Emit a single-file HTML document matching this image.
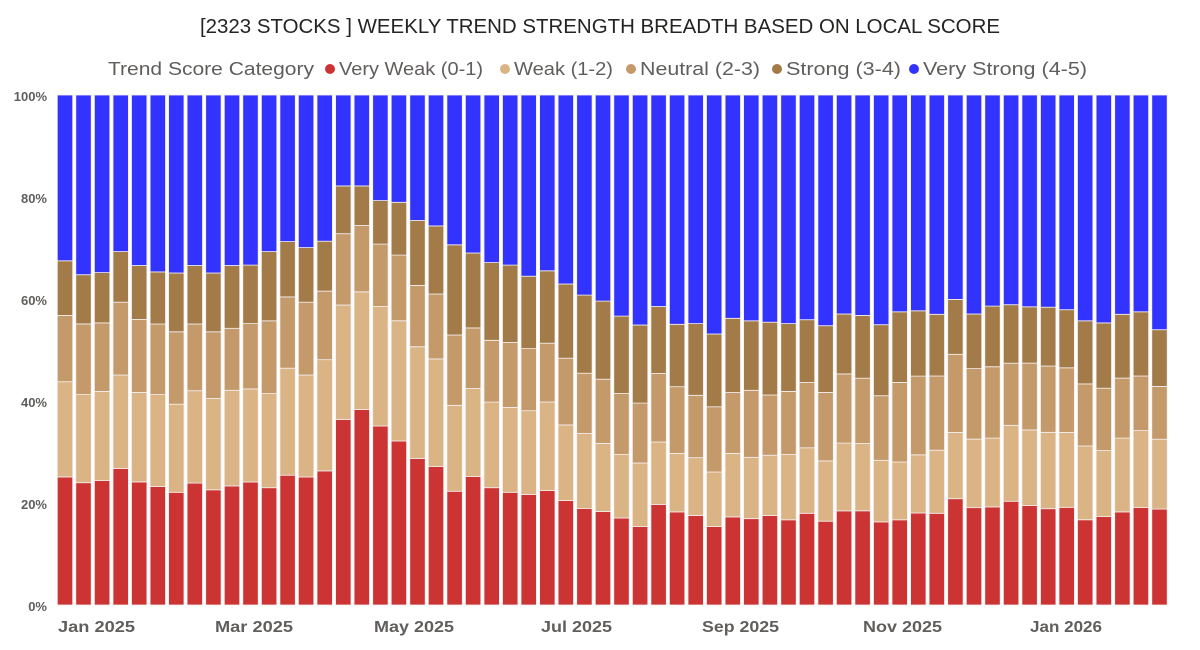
<!DOCTYPE html>
<html><head><meta charset="utf-8"><style>
html,body{margin:0;padding:0;background:#fff;}
body{width:1200px;height:645px;overflow:hidden;font-family:"Liberation Sans",sans-serif;}
</style></head><body>
<svg id="s" width="1200" height="645" xmlns="http://www.w3.org/2000/svg">
<text x="200" y="33" textLength="800" lengthAdjust="spacingAndGlyphs" font-family="Liberation Sans, sans-serif" font-size="20" fill="#252423">[2323 STOCKS ] WEEKLY TREND STRENGTH BREADTH BASED ON LOCAL SCORE</text>
<g font-family="Liberation Sans, sans-serif" font-size="18" fill="#605e5c">
<text x="108" y="75" textLength="206" lengthAdjust="spacingAndGlyphs">Trend Score Category</text>
<circle cx="330" cy="69" r="5" fill="#cc3333"/><text x="339" y="75" textLength="144" lengthAdjust="spacingAndGlyphs">Very Weak (0-1)</text>
<circle cx="505" cy="69" r="5" fill="#dbb486"/><text x="514" y="75" textLength="99" lengthAdjust="spacingAndGlyphs">Weak (1-2)</text>
<circle cx="631" cy="69" r="5" fill="#c49a6a"/><text x="640" y="75" textLength="120" lengthAdjust="spacingAndGlyphs">Neutral (2-3)</text>
<circle cx="777" cy="69" r="5" fill="#a27b48"/><text x="786" y="75" textLength="115" lengthAdjust="spacingAndGlyphs">Strong (3-4)</text>
<circle cx="914" cy="69" r="5" fill="#3333ff"/><text x="923" y="75" textLength="164" lengthAdjust="spacingAndGlyphs">Very Strong (4-5)</text>
</g>
<g font-family="Liberation Sans, sans-serif" font-size="13" font-weight="bold" fill="#605e5c" text-anchor="end">
<text x="47" y="101">100%</text><text x="47" y="203">80%</text><text x="47" y="305">60%</text>
<text x="47" y="407">40%</text><text x="47" y="509">20%</text><text x="47" y="611">0%</text>
</g>
<g id="bars"></g>
<g font-family="Liberation Sans, sans-serif" font-size="16" font-weight="bold" fill="#605e5c">
<text x="58" y="632" textLength="77" lengthAdjust="spacingAndGlyphs">Jan 2025</text>
<text x="215" y="632" textLength="78" lengthAdjust="spacingAndGlyphs">Mar 2025</text>
<text x="374" y="632" textLength="80" lengthAdjust="spacingAndGlyphs">May 2025</text>
<text x="541" y="632" textLength="71" lengthAdjust="spacingAndGlyphs">Jul 2025</text>
<text x="702" y="632" textLength="77" lengthAdjust="spacingAndGlyphs">Sep 2025</text>
<text x="863" y="632" textLength="79" lengthAdjust="spacingAndGlyphs">Nov 2025</text>
<text x="1030" y="632" textLength="72" lengthAdjust="spacingAndGlyphs">Jan 2026</text>
</g>
</svg>
<script>
var d=[[1113,846,660,507],[1129,882,684,546],[1123,873,681,540],[1089,827,623,481],[1127,876,671,520],[1140,882,684,538],[1156,909,706,541],[1130,871,684,520],[1149,893,706,541],[1138,870,696,520],[1127,866,683,519],[1143,879,675,481],[1108,808,608,453],[1113,827,623,470],[1096,784,592,452],[952,631,431,297],[924,594,408,297],[970,635,460,338],[1012,675,491,343],[1061,748,576,394],[1084,782,600,409],[1153,912,715,462],
[1112,865,695,485],[1143,903,730,512],[1156,918,736,519],[1162,927,753,550],[1151,903,738,535],[1179,967,780,572],[1201,991,822,603],[1210,1019,839,620],[1228,1050,879,662],[1252,1074,906,687],[1190,1015,823,635],[1211,1047,860,685],[1221,1059,884,683],[1252,1099,916,712],[1225,1047,876,668],[1230,1058,870,675],[1221,1052,883,679],[1233,1050,873,683],[1215,1031,848,672],
[1237,1068,876,689],[1208,1018,824,656],[1208,1019,836,660],[1239,1066,885,686],[1233,1071,848,650],[1214,1051,830,647],[1215,1038,830,657],[1174,988,769,615],[1199,1007,809,656],[1197,1004,804,634],[1181,968,794,630],[1193,981,794,636],[1202,988,802,637],[1198,988,807,644],[1233,1026,852,675],[1224,1039,864,681],[1211,1004,836,657],[1199,983,830,650],[1203,1007,859,700]];
var cols=["#cc3333","#dbb486","#c49a6a","#a27b48","#3333ff"];
var g=document.getElementById("bars");
function Y(z){return 95+(z-42)/1430*510;}
var h="";
for(var i=0;i<d.length;i++){
  var x=57.3+i*18.55,w=15.4;
  var b=[1472].concat(d[i]).concat([42]);
  for(var k=0;k<5;k++){
    var y1=Y(b[k+1]),y0=Y(b[k]);
    h+='<rect x="'+x.toFixed(1)+'" y="'+y1.toFixed(1)+'" width="'+w+'" height="'+(y0-y1).toFixed(1)+'" fill="'+cols[k]+'" stroke="#f3eeee" stroke-width="0.8"/>';
  }
}
g.innerHTML=h;
</script>
</body></html>
